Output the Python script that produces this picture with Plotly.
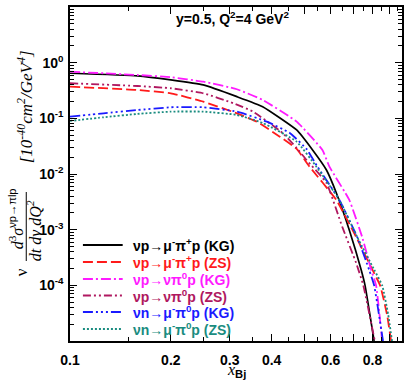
import plotly.graph_objects as go

# ---- data ----
x_kg_cc = [0.1, 0.159, 0.2, 0.25, 0.315, 0.376, 0.475, 0.53, 0.583, 0.624, 0.682, 0.74, 0.76, 0.809]
y_kg_cc = [0.645, 0.577, 0.489, 0.398, 0.245, 0.162, 0.0618, 0.027, 0.0118, 0.00456, 9.9e-4, 1.9e-4, 1.0e-4, 1e-5]

x_zs_cc = [0.1, 0.159, 0.2, 0.25, 0.315, 0.361, 0.423, 0.475, 0.519, 0.624, 0.715, 0.80, 0.843, 0.884, 0.909]
y_zs_cc = [0.371, 0.323, 0.282, 0.1995, 0.123, 0.0871, 0.0469, 0.0282, 0.01355, 0.00342, 7.4e-4, 1.89e-4, 1.0e-4, 3e-5, 1e-5]

x_kg_nc = [0.1, 0.159, 0.2, 0.25, 0.315, 0.376, 0.475, 0.567, 0.595, 0.682, 0.745, 0.793, 0.82, 0.855]
y_kg_nc = [0.689, 0.601, 0.547, 0.456, 0.333, 0.214, 0.0871, 0.027, 0.01355, 0.00342, 7.4e-4, 1.89e-4, 1.0e-4, 1e-5]

x_zs_nc = [0.1, 0.159, 0.2, 0.25, 0.307, 0.352, 0.431, 0.475, 0.508, 0.583, 0.65, 0.715, 0.751, 0.813]
y_zs_nc = [0.427, 0.381, 0.347, 0.282, 0.187, 0.132, 0.0546, 0.0294, 0.0179, 0.0069, 0.00112, 2.52e-4, 1.0e-4, 1e-5]

x_kg_n = [0.1, 0.126, 0.159, 0.2, 0.25, 0.315, 0.387, 0.453, 0.508, 0.548, 0.637, 0.72, 0.782, 0.809, 0.86]
y_kg_n = [0.107, 0.123, 0.141, 0.158, 0.158, 0.132, 0.0871, 0.0546, 0.0282, 0.01355, 0.00342, 7.4e-4, 1.89e-4, 1.0e-4, 1e-5]

x_zs_n = [0.1, 0.126, 0.159, 0.2, 0.25, 0.315, 0.376, 0.475, 0.544, 0.637, 0.72, 0.81, 0.855, 0.891, 0.915]
y_zs_n = [0.0897, 0.1045, 0.12, 0.132, 0.132, 0.115, 0.0826, 0.0381, 0.01355, 0.00342, 7.4e-4, 1.89e-4, 1.0e-4, 3e-5, 1e-5]

names = [
    "νp→μ<sup>-</sup>π<sup>+</sup>p (KG)",
    "νp→μ<sup>-</sup>π<sup>+</sup>p (ZS)",
    "νp→νπ<sup>0</sup>p (KG)",
    "νp→νπ<sup>0</sup>p (ZS)",
    "νn→μ<sup>-</sup>π<sup>0</sup>p (KG)",
    "νn→μ<sup>-</sup>π<sup>0</sup>p (ZS)",
]

y_tickvals = [1, 0.1, 0.01, 0.001, 1e-4]
y_ticktext = ["10<sup>0</sup>", "10<sup>-1</sup>", "10<sup>-2</sup>", "10<sup>-3</sup>", "10<sup>-4</sup>"]
x_tickvals = [0.1, 0.2, 0.3, 0.4, 0.5, 0.6, 0.7, 0.8, 0.9]
x_ticktext = ["0.1", "0.2", "0.3", "0.4", "", "0.6", "", "0.8", ""]

series = [(x_kg_cc, y_kg_cc), (x_zs_cc, y_zs_cc), (x_kg_nc, y_kg_nc),
          (x_zs_nc, y_zs_nc), (x_kg_n, y_kg_n), (x_zs_n, y_zs_n)]

# ---- styles ----
colors = ["#000000", "#ff1a1a", "#ff1aff", "#b01860", "#1a1aff", "#1a8c80"]
dashes = ["solid", "10px,4px", "10px,3px,2px,3px", "8px,3px,2px,3px,2px,3px",
          "10px,3px,2px,3px,2px,3px,2px,3px", "2px,2px"]
widths = [1.7, 1.8, 1.8, 1.8, 1.8, 1.8]

fig = go.Figure()
for (xs, ys), c, d, w, n in zip(series, colors, dashes, widths, names):
    fig.add_trace(go.Scatter(x=xs, y=ys, mode="lines", name=n, showlegend=False,
                             line=dict(color=c, dash=d, width=w, shape="spline", smoothing=0.4)))

L, T, R, B = 70, 7, 1, 39
W, H = 405, 380
pw, ph = W - L - R, H - T - B

def px(xp):
    return (xp - L) / pw

def py(yp):
    return (H - B - yp) / ph

shapes = []
annotations = []
# legend drawn inside the plot
row_y = [245, 262, 279, 295.5, 312, 329]
for ry, c, d, n in zip(row_y, colors, dashes, names):
    shapes.append(dict(type="line", xref="paper", yref="paper",
                       x0=px(83), x1=px(123), y0=py(ry), y1=py(ry),
                       line=dict(color=c, dash=d, width=1.8)))
    annotations.append(dict(xref="paper", yref="paper", x=px(131), y=py(ry),
                            xanchor="left", yanchor="middle", showarrow=False,
                            text="<b>" + n + "</b>",
                            font=dict(family="Liberation Sans, Arial", size=14, color=c)))

# top label
annotations.append(dict(xref="paper", yref="paper", x=px(233), y=py(18), showarrow=False,
                        xanchor="center", yanchor="middle",
                        text="<b>y=0.5, Q<sup>2</sup>=4 GeV<sup>2</sup></b>",
                        font=dict(family="Liberation Sans, Arial", size=14, color="black")))
# x title
annotations.append(dict(xref="paper", yref="paper", x=px(238), y=py(370), showarrow=False,
                        xanchor="center", yanchor="middle",
                        text="<i>x</i><sub><b><span style='font-family:Liberation Sans'>Bj</span></b></sub>",
                        font=dict(family="Liberation Serif", size=16, color="black")))
# y title pieces
serif = dict(family="Liberation Serif", size=17, color="black")
annotations.append(dict(xref="paper", yref="paper", x=px(25), y=py(107), showarrow=False,
                        textangle=-90, xanchor="center", yanchor="middle",
                        text="<i>[10<sup>-40</sup>cm<sup>2</sup>/GeV<sup>4</sup>]</i>", font=serif))
annotations.append(dict(xref="paper", yref="paper", x=px(16), y=py(219), showarrow=False,
                        textangle=-90, xanchor="center", yanchor="middle",
                        text="<i>d</i><sup>3</sup><i>σ</i><sup><span style='font-family:Liberation Sans'>νp→πlp</span></sup>",
                        font=dict(family="Liberation Serif", size=16, color="black")))
annotations.append(dict(xref="paper", yref="paper", x=px(34), y=py(231), showarrow=False,
                        textangle=-90, xanchor="center", yanchor="middle",
                        text="<i>dt dν dQ<sup>2</sup></i>", font=dict(family="Liberation Serif", size=16, color="black")))
annotations.append(dict(xref="paper", yref="paper", x=px(21), y=py(272), showarrow=False,
                        textangle=-90, xanchor="center", yanchor="middle",
                        text="ν", font=serif))
shapes.append(dict(type="line", xref="paper", yref="paper", x0=px(26), x1=px(26),
                   y0=py(261), y1=py(192), line=dict(color="black", width=1)))

axis_common = dict(showline=True, linecolor="black", linewidth=1.5, mirror="allticks",
                   ticks="inside", tickcolor="black", ticklen=7, tickwidth=1,
                   showgrid=False, zeroline=False,
                   tickfont=dict(family="Liberation Sans, Arial", size=14, color="black", weight="bold"))

fig.update_xaxes(type="log", range=[-1, -0.0088], tickmode="array",
                 tickvals=x_tickvals, ticktext=x_ticktext, ticklabelstandoff=5,
                 minor=dict(ticks="inside", ticklen=4, tickcolor="black",
                            tickvals=[0.15, 0.25, 0.35, 0.45, 0.55, 0.65, 0.75, 0.85, 0.95]),
                 **axis_common)
fig.update_yaxes(type="log", range=[-5, 1], tickmode="array",
                 tickvals=y_tickvals, ticktext=y_ticktext, ticklabelstandoff=2,
                 minor=dict(ticks="inside", ticklen=4, tickcolor="black", dtick="D1"),
                 **axis_common)

fig.update_layout(width=W, height=H, margin=dict(l=L, r=R, t=T, b=B),
                  paper_bgcolor="white", plot_bgcolor="white",
                  shapes=shapes, annotations=annotations, showlegend=False)

fig.write_html("out.html", config={"displayModeBar": False},
               post_script="document.body.style.margin='0';document.body.style.overflow='hidden';")
